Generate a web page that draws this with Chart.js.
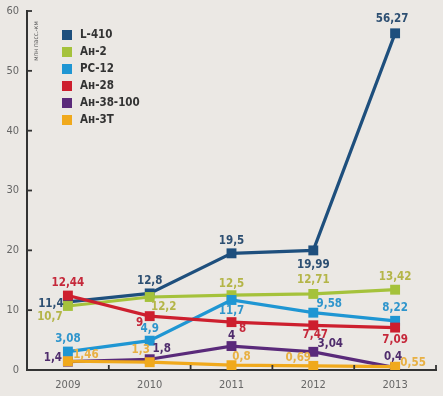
<!DOCTYPE html>
<html><head><meta charset="utf-8">
<script src="https://cdn.jsdelivr.net/npm/chart.js@4.4.0/dist/chart.umd.min.js"></script>
<style>html,body{margin:0;padding:0;background:#ebe8e4;}#wrap{width:443px;height:396px;}</style>
</head><body><div id="wrap"><canvas id="c" width="443" height="396"></canvas></div>
<script>
const years = ['2009', '2010', '2011', '2012', '2013'];
const seriesNames = ['L-410', 'Ан-2', 'РС-12', 'Ан-28', 'Ан-38-100', 'Ан-3Т'];
const l410 = [11.4, 12.8, 19.5, 19.99, 56.27];
const an2 = [10.7, 12.2, 12.5, 12.71, 13.42];
const rc12 = [3.08, 4.9, 11.7, 9.58, 8.22];
const an28 = [12.44, 9, 8, 7.47, 7.09];
const an38 = [1.4, 1.8, 4, 3.04, 0.4];
const an3t = [1.46, 1.3, 0.8, 0.69, 0.55];
const yMin = 0, yMax = 60, yStep = 10;
const yUnit = 'млн пасс.-км';

const seriesValues = [l410, an2, rc12, an28, an38, an3t];
const colors = ['#1e4f7d', '#a5c23b', '#1f96d3', '#cd1f2e', '#5a2a7a', '#f0a91c'];
const labelColors = ['#2d4f72', '#b4b548', '#2f95cc', '#c5283a', '#4f2c6c', '#e8b043'];
// label offsets (dx, dy) relative to each point
const labelOffsets = [
  [[-17, 2], [0, -12], [0, -12], [0, 15], [-3, -14]],
  [[-18, 11], [14, 10], [0, -11], [0, -14], [0, -13]],
  [[0, -13], [0, -12], [0, 11], [16, -9], [0, -13]],
  [[0, -13], [-10, 7], [11, 7], [2, 10], [0, 12]],
  [[-15, -4], [12, -10], [0, -10], [17, -8], [-2, -11]],
  [[18, -6], [-9, -12], [10, -8], [-15, -8], [18, -4]]
];
const FONT = "'Liberation Sans Narrow', 'DejaVu Sans Condensed', 'Liberation Sans', sans-serif";
const fmt = v => String(v).replace('.', ',');

const n = seriesNames.length;
const datasets = seriesNames.map((name, i) => ({
  label: name,
  data: seriesValues[i],
  borderColor: colors[i],
  backgroundColor: colors[i],
  borderWidth: 3.2,
  pointStyle: 'rect',
  pointRadius: 7,
  pointBorderWidth: 0,
  pointBackgroundColor: colors[i],
  tension: 0,
  order: n - i
}));

const labelsPlugin = {
  id: 'valueLabels',
  afterDatasetsDraw(chart) {
    const ctx = chart.ctx;
    ctx.save();
    ctx.font = "bold 11.5px " + FONT;
    ctx.textAlign = 'center';
    ctx.textBaseline = 'middle';
    chart.data.datasets.forEach((ds, i) => {
      const meta = chart.getDatasetMeta(i);
      meta.data.forEach((pt, j) => {
        const off = labelOffsets[i][j];
        ctx.fillStyle = labelColors[i];
        ctx.fillText(fmt(ds.data[j]), pt.x + off[0], pt.y + off[1]);
      });
    });
    ctx.restore();
  }
};

const decorPlugin = {
  id: 'decor',
  afterDraw(chart) {
    const ctx = chart.ctx;
    const xs = chart.scales.x;
    const ys = chart.scales.y;
    ctx.save();
    ctx.strokeStyle = '#333';
    ctx.lineWidth = 1.8;
    // x-axis tick marks between categories, pointing up
    const cnt = years.length;
    for (let i = 0; i < cnt; i++) {
      const x = i < cnt - 1 ? (xs.getPixelForValue(i) + xs.getPixelForValue(i + 1)) / 2 : xs.right;
      ctx.beginPath();
      ctx.moveTo(x, ys.bottom);
      ctx.lineTo(x, ys.bottom - 5);
      ctx.stroke();
    }
    // y-axis tick marks pointing right (inward)
    ys.ticks.forEach(t => {
      if (t.value === yMin) return;
      const y = ys.getPixelForValue(t.value);
      ctx.beginPath();
      ctx.moveTo(ys.right - 1, y);
      ctx.lineTo(ys.right + 5, y);
      ctx.stroke();
    });
    // y unit label
    ctx.translate(ys.right + 9, ys.getPixelForValue(yMax) + 30);
    ctx.rotate(-Math.PI / 2);
    ctx.font = "6.5px " + FONT;
    ctx.fillStyle = '#555';
    ctx.textAlign = 'center';
    ctx.textBaseline = 'middle';
    ctx.fillText(yUnit, 0, 0);
    ctx.restore();
    // legend
    ctx.save();
    ctx.font = "bold 11.5px " + FONT;
    ctx.textBaseline = 'middle';
    chart.data.datasets.forEach((ds, i) => {
      const y = 35 + i * 17;
      ctx.fillStyle = colors[i];
      ctx.fillRect(62, y - 5, 10, 10);
      ctx.fillStyle = '#333';
      ctx.fillText(ds.label, 80, y);
    });
    ctx.restore();
  }
};

new Chart(document.getElementById('c'), {
  type: 'line',
  data: { labels: years, datasets },
  options: {
    responsive: false,
    animation: false,
    devicePixelRatio: 1,
    layout: { padding: { top: 11, right: 6, left: 0, bottom: 0 } },
    plugins: { legend: { display: false }, tooltip: { enabled: false } },
    scales: {
      x: {
        offset: true,
        grid: { display: true, drawOnChartArea: false, drawTicks: false, offset: true },
        border: { color: '#333', width: 2 },
        ticks: { color: '#666', font: { family: FONT, size: 11 }, padding: 9 },
        afterFit(s) { s.height = 26; s.paddingLeft = 0; s.paddingRight = 0; }
      },
      y: {
        min: yMin, max: yMax,
        ticks: { stepSize: yStep, color: '#666', font: { family: FONT, size: 11 }, padding: 8 },
        grid: { drawOnChartArea: false, drawTicks: false },
        border: { color: '#333', width: 2 },
        afterFit(s) { s.width = 27; s.paddingTop = 0; s.paddingBottom = 0; }
      }
    }
  },
  plugins: [labelsPlugin, decorPlugin]
});
</script></body></html>
